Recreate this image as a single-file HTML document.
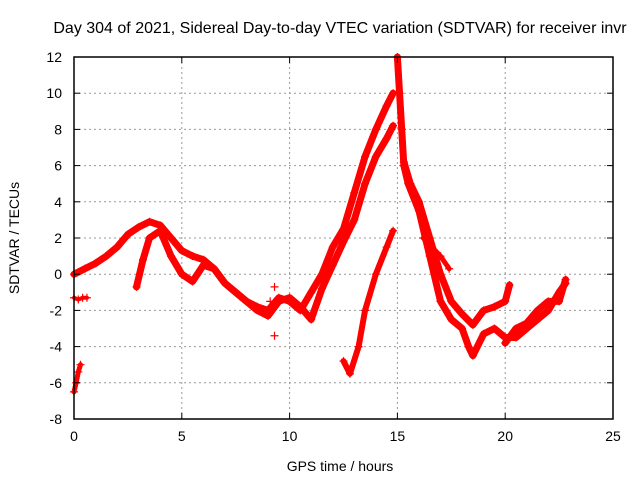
<!DOCTYPE html>
<html><head><meta charset="utf-8"><style>
body{margin:0;background:#fff}
svg{display:block;font-family:"Liberation Sans",sans-serif}
</style></head><body>
<svg id="chart" width="640" height="480">
<text x="340" y="33" font-size="16" text-anchor="middle">Day 304 of 2021, Sidereal Day-to-day VTEC variation (SDTVAR) for receiver invr</text>
<text x="340" y="471" font-size="14" text-anchor="middle">GPS time / hours</text>
<text transform="translate(19,238) rotate(-90)" font-size="14" text-anchor="middle">SDTVAR / TECUs</text>
<g id="grid"></g><g id="marks"></g><g id="axes"></g>
</svg>
<script>
const xTicks=[0,5,10,15,20,25];
const yTicks=[-8,-6,-4,-2,0,2,4,6,8,10,12];
const s1T=[0,0.5,1,1.5,2,2.5,3,3.5,4,4.5,5,5.5,6,6.5,7,7.5,8,8.5,9,9.5,10,10.5,11,11.5,12,12.5,13,13.5,14,14.5,14.8];
const s1V=[0,0.3,0.6,1,1.5,2.2,2.6,2.9,2.7,2,1.3,1,0.8,0.3,-0.5,-1,-1.5,-1.8,-2,-1.3,-1.5,-2,-1,0,1.5,2.5,4.5,6.5,8,9.3,10];
const s2T=[2.9,3.2,3.5,4,4.5,5,5.5,6,6.5,7,7.5,8,8.5,9,9.5,10,10.5,11,11.5,12,12.5,13,13.5,14,14.5,14.8];
const s2V=[-0.7,0.8,2,2.4,1,0,-0.4,0.5,0.3,-0.5,-1,-1.5,-2,-2.3,-1.5,-1.3,-1.8,-2.5,-0.8,0.5,1.8,3,5,6.5,7.5,8.2];
const s3T=[12.5,12.8,13.2,13.5,14,14.5,14.8];
const s3V=[-4.8,-5.5,-4,-2,0,1.5,2.4];
const s4T=[15,15.1,15.2,15.3,15.5,16,16.5,17,17.5,18,18.3,18.5,19,19.5,20,20.5,21,21.5,22,22.5,22.8];
const s4V=[12,10,8,6,5,3.5,1,-1.5,-2.5,-3,-4,-4.5,-3.3,-3,-3.5,-3.5,-3,-2.5,-2,-1,-0.5];
const s5T=[15.3,15.6,16,16.5,17,17.5,18,18.5,19,19.5,20,20.2];
const s5V=[6.2,5,4,2,0,-1.5,-2.2,-2.8,-2,-1.8,-1.5,-0.6];
const s5bT=[20,20.5,21,21.5,22,22.5,22.8];
const s5bV=[-3.8,-3,-2.7,-2,-1.5,-1.5,-0.3];
const s6T=[16.2,16.6,17,17.4];
const s6V=[2,1.5,1,0.3];
const s7T=[0,0.1,0.2,0.3];
const s7V=[-6.5,-6,-5.4,-5];
const s8T=[0,0.2,0.4,0.6];
const s8V=[-1.3,-1.4,-1.3,-1.3];
const oT=[9.3,9.3,9.1];
const oV=[-3.4,-0.7,-1.5];
const L=74,R=613,T=57,B=419;
const X=t=>L+(t-0)/25*(R-L);
const Y=v=>B-(v+8)/20*(B-T);
const ns="http://www.w3.org/2000/svg";
function mk(tag,a,p){const e=document.createElementNS(ns,tag);for(const k in a)e.setAttribute(k,a[k]);p.appendChild(e);return e;}
const grid=document.getElementById('grid'),axes=document.getElementById('axes'),marks=document.getElementById('marks');
xTicks.forEach(t=>{
 if(t>0&&t<25){const g=mk('line',{x1:X(t),x2:X(t),y1:T,y2:B,stroke:'#999','stroke-dasharray':'2,3'},grid);
 }
 mk('line',{x1:X(t),x2:X(t),y1:B,y2:B-6,stroke:'#000'},axes);
 mk('line',{x1:X(t),x2:X(t),y1:T,y2:T+6,stroke:'#000'},axes);
 const l=mk('text',{x:X(t),y:B+22,'font-size':14,'text-anchor':'middle'},axes);l.textContent=t;
 
});
yTicks.forEach(v=>{
 if(v>-8&&v<12){const g=mk('line',{x1:L,x2:R,y1:Y(v),y2:Y(v),stroke:'#999','stroke-dasharray':'2,3'},grid);
 }
 mk('line',{x1:L,x2:L+6,y1:Y(v),y2:Y(v),stroke:'#000'},axes);
 mk('line',{x1:R,x2:R-6,y1:Y(v),y2:Y(v),stroke:'#000'},axes);
 const l=mk('text',{x:L-12,y:Y(v)+5,'font-size':14,'text-anchor':'end'},axes);l.textContent=v;
 
});
const box=mk('rect',{x:L,y:T,width:R-L,height:B-T,fill:'none',stroke:'#000','stroke-width':1.5},axes);

function series(ts,vs,name,w){
 const pts=ts.map((t,i)=>X(t)+','+Y(vs[i])).join(' ');
 const pl=mk('polyline',{points:pts,fill:'none',stroke:'#f00','stroke-width':w,'stroke-linejoin':'round','stroke-linecap':'round'},marks);
 
 
 ts.forEach((t,i)=>{
  const x=X(t),y=Y(vs[i]);
  const p=mk('path',{d:`M${x-4},${y}H${x+4}M${x},${y-4}V${y+4}`,stroke:'#f00','stroke-width':1.2},marks);
  
  
 });
}
series(s1T,s1V,'series-main',7);
series(s2T,s2V,'series-shifted',7);
series(s3T,s3V,'series-late-rise',6);
series(s4T,s4V,'series-decay-a',7);
series(s5T,s5V,'series-decay-b',7);
series(s5bT,s5bV,'series-decay-b-tail',7);
series(s6T,s6V,'series-decay-c',5);
series(s7T,s7V,'series-start-low',5);
series(s8T,s8V,'series-start-mid',4);
series(oT,oV,'series-outliers',0);
</script>
</body></html>
